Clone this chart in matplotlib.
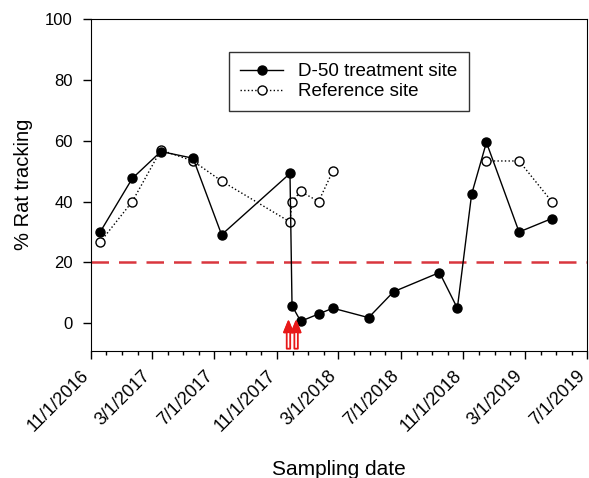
import matplotlib
matplotlib.use("Agg")
import matplotlib.pyplot as plt
import matplotlib.dates as mdates
import matplotlib.transforms as mtransforms
import numpy as np
from datetime import datetime

plt.rcParams['font.family'] = ['Liberation Sans', 'DejaVu Sans']

# D-50 treatment site
treat_dates = ["11/19/2016", "1/21/2017", "3/18/2017", "5/20/2017", "7/15/2017",
               "11/26/2017", "11/30/2017", "12/17/2017", "1/21/2018", "2/18/2018",
               "4/29/2018", "6/17/2018", "9/15/2018", "10/20/2018", "11/17/2018",
               "12/16/2018", "2/18/2019", "4/23/2019"]
treat_vals = [30, 47.6, 56.4, 54.2, 29.1, 49.2, 5.8, 0.7, 3.1, 5.0,
              1.9, 10.4, 16.7, 5.0, 42.4, 59.4, 30.0, 34.4]

# reference site (gap between 2/2018 and 12/2018)
ref_dates = ["11/19/2016", "1/21/2017", "3/18/2017", "5/20/2017", "7/15/2017",
             "11/26/2017", "11/30/2017", "12/17/2017", "1/21/2018", "2/18/2018",
             "12/16/2018", "2/18/2019", "4/23/2019"]
ref_vals = [26.7, 40, 56.9, 53.3, 46.7, 33.3, 40, 43.3, 40, 50,
            53.3, 53.3, 40]

# bait application dates (red arrows)
arrow_dates = ["11/23/2017", "12/8/2017"]

xtick_labels = ["11/1/2016", "3/1/2017", "7/1/2017", "11/1/2017", "3/1/2018",
                "7/1/2018", "11/1/2018", "3/1/2019", "7/1/2019"]

def d(s):
    return datetime.strptime(s, "%m/%d/%Y")

td = [d(s) for s in treat_dates]
rd = [d(s) for s in ref_dates]

fig = plt.figure(figsize=(5.89, 4.78), dpi=100)
ax = fig.add_axes([0.1545, 0.266, 0.842, 0.695])

ax.axhline(20, color='#d9363e', lw=1.8, dashes=(7, 4), zorder=1)

# reference: two segments because of the gap
ax.plot(rd[:10], ref_vals[:10], ls=':', color='black', lw=1,
        marker='o', mfc='white', mec='black', ms=6.5, mew=1, label='Reference site', zorder=2)
ax.plot(rd[10:], ref_vals[10:], ls=':', color='black', lw=1,
        marker='o', mfc='white', mec='black', ms=6.5, mew=1, zorder=2)
ax.plot(td, treat_vals, ls='-', color='black', lw=1,
        marker='o', mfc='black', mec='black', ms=6.5, label='D-50 treatment site', zorder=3)

# hollow shaft, filled head
astyle = 'simple,head_width=0.65,head_length=0.8,tail_width=0.25'
for a in arrow_dates:
    ax.annotate('', xy=(d(a), 1.6), xytext=(d(a), -9.2),
                arrowprops=dict(arrowstyle=astyle, fc='white', ec='#e81818', lw=1.3), zorder=4)
    ax.annotate('', xy=(d(a), 1.6), xytext=(d(a), -2.0),
                arrowprops=dict(arrowstyle=astyle, fc='#e81818', ec='#e81818', lw=1.0), zorder=5)

ax.set_xlim(d("11/1/2016"), d("7/1/2019"))
ax.set_ylim(-9, 100)
ax.set_yticks([0, 20, 40, 60, 80, 100])

ax.set_xticks([d(s) for s in xtick_labels])
ax.set_xticklabels(xtick_labels, rotation=45, ha='right', rotation_mode='anchor')
ax.xaxis.set_minor_locator(mdates.MonthLocator())
ax.tick_params(axis='both', which='major', direction='out', length=6, width=1, labelsize=12)
ax.tick_params(axis='x', which='major', labelsize=13)
ax.tick_params(axis='x', which='minor', direction='out', length=3, width=1)
ax.tick_params(axis='y', pad=7)

# move the rotated date labels so they end left of the tick, like the original
shift = mtransforms.ScaledTranslation(-7.5 / 72, -2.5 / 72, fig.dpi_scale_trans)
for lab in ax.get_xticklabels():
    lab.set_transform(lab.get_transform() + shift)

ax.set_xlabel('Sampling date', fontsize=15, labelpad=18)
ax.set_ylabel('% Rat tracking', fontsize=14.5, labelpad=9)

h, l = ax.get_legend_handles_labels()
leg = ax.legend(h[::-1], l[::-1], loc='upper left', bbox_to_anchor=(0.278, 0.90),
                fontsize=13.5, frameon=True, fancybox=False, edgecolor='black',
                handlelength=2.3, borderpad=0.6, labelspacing=0.15, borderaxespad=0)
leg.get_frame().set_linewidth(1)

fig.savefig('out.png', dpi=100)
